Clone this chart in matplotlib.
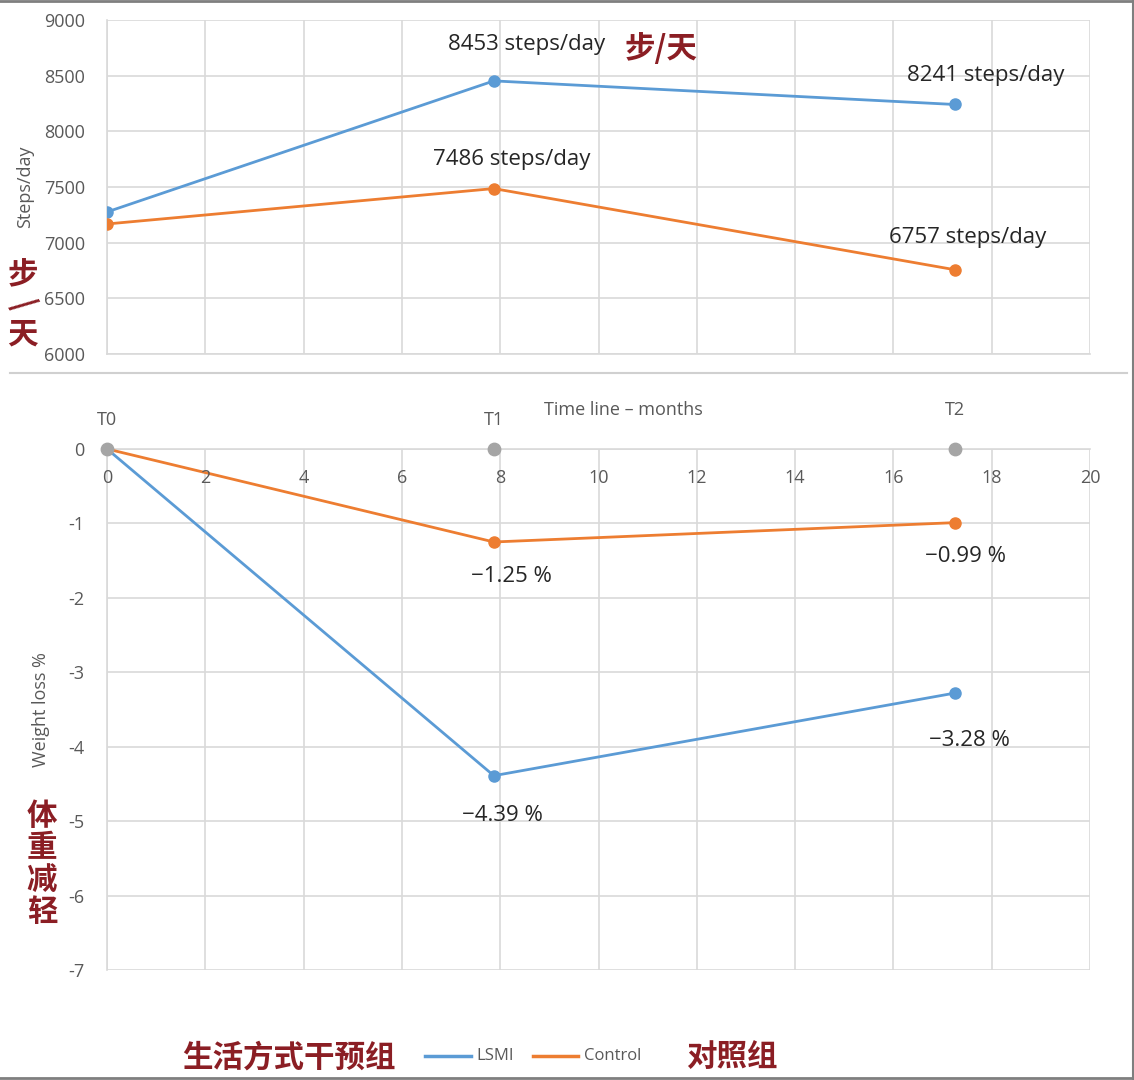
import matplotlib.pyplot as plt
from matplotlib.lines import Line2D

# data
months = [0, 7.87, 17.25]
time_labels = ['T0', 'T1', 'T2']
steps_lsmi = [7276, 8453, 8241]
steps_ctrl = [7168, 7486, 6757]
weight_lsmi = [0, -4.39, -3.28]
weight_ctrl = [0, -1.25, -0.99]
steps_notes = ['', '8453 steps/day', '8241 steps/day']
steps_ctrl_notes = ['', '7486 steps/day', '6757 steps/day']
weight_lsmi_notes = ['', '\u22124.39 %', '\u22123.28 %']
weight_ctrl_notes = ['', '\u22121.25 %', '\u22120.99 %']

BLUE = '#5B9BD5'
ORANGE = '#ED7D31'
GRID = '#D9D9D9'
TICK = '#595959'
RED = '#8B1E24'

plt.rcParams['font.family'] = ['Open Sans', 'DejaVu Sans']
plt.rcParams['axes.unicode_minus'] = False
cjk = ['Noto Sans CJK SC', 'DejaVu Sans']

fig = plt.figure(figsize=(11.34, 10.8), dpi=100)

def note(ax, x, y, text, dx, dy):
    # offsets given in pixels, converted to points
    ax.annotate(text, (x, y), xytext=(dx * 0.72, dy * 0.72), textcoords='offset points',
                ha='center', va='center', fontsize=16, color='#262626',
                annotation_clip=False)

# top panel: steps/day
ax1 = fig.add_axes([0.0944, 0.6722, 0.8668, 0.3093])
ax1.plot(months, steps_lsmi, color=BLUE, lw=2, marker='o', ms=8, zorder=3)
ax1.plot(months, steps_ctrl, color=ORANGE, lw=2, marker='o', ms=8, zorder=3)
ax1.set_xlim(0, 20)
ax1.set_ylim(6000, 9000)
ax1.set_xticks(range(0, 21, 2))
ax1.set_yticks(range(6000, 9001, 500))
ax1.tick_params(axis='x', length=0, labelbottom=False)
ax1.tick_params(axis='y', length=0, labelsize=13, colors=TICK, pad=16)
ax1.grid(True, color=GRID, lw=1.2)
for s in ['top', 'right']:
    ax1.spines[s].set_visible(False)
for s in ['left', 'bottom']:
    ax1.spines[s].set_color(GRID)
    ax1.spines[s].set_linewidth(1.2)
ax1.set_ylabel('Steps/day', color=TICK, fontsize=13)
ax1.yaxis.set_label_coords(-0.074, 0.5)

note(ax1, months[1], steps_lsmi[1], steps_notes[1], 33, 36)
note(ax1, months[2], steps_lsmi[2], steps_notes[2], 31, 29)
note(ax1, months[1], steps_ctrl[1], steps_ctrl_notes[1], 18, 29)
note(ax1, months[2], steps_ctrl[2], steps_ctrl_notes[2], 13, 32)

# bottom panel: weight loss
ax2 = fig.add_axes([0.0944, 0.1019, 0.8668, 0.4824])
ax2.plot(months, weight_lsmi, color=BLUE, lw=2, marker='o', ms=8, zorder=3)
ax2.plot(months, weight_ctrl, color=ORANGE, lw=2, marker='o', ms=8, zorder=3)
ax2.scatter(months, [0] * len(months), s=80, color='#A5A5A5', zorder=4, clip_on=False)
ax2.set_xlim(0, 20)
ax2.set_ylim(-7, 0)
ax2.set_xticks(range(0, 21, 2))
ax2.set_yticks(range(-7, 1))
ax2.tick_params(axis='x', length=0, labelbottom=False, labeltop=False)
for xv in range(0, 21, 2):
    ax2.text(xv, -0.39, str(xv), ha='center', va='center', fontsize=13, color=TICK)
ax2.tick_params(axis='y', length=0, labelsize=13, colors=TICK, pad=16)
ax2.grid(True, color=GRID, lw=1.2)
for s in ['right', 'bottom']:
    ax2.spines[s].set_visible(False)
for s in ['left', 'top']:
    ax2.spines[s].set_color(GRID)
    ax2.spines[s].set_linewidth(1.2)
ax2.set_ylabel('Weight loss %', color=TICK, fontsize=13)
ax2.yaxis.set_label_coords(-0.058, 0.5)

t_offsets = [29, 29, 39]
for x, t, dy in zip(months, time_labels, t_offsets):
    ax2.annotate(t, (x, 0), xytext=(0, dy * 0.72), textcoords='offset points',
                 ha='center', va='center', fontsize=13, color=TICK, annotation_clip=False)
ax2.annotate('Time line \u2013 months', (10.5, 0), xytext=(0, 39 * 0.72), textcoords='offset points',
             ha='center', va='center', fontsize=13, color=TICK, annotation_clip=False)

note(ax2, months[1], weight_ctrl[1], weight_ctrl_notes[1], 18, -35)
note(ax2, months[2], weight_ctrl[2], weight_ctrl_notes[2], 11, -34)
note(ax2, months[1], weight_lsmi[1], weight_lsmi_notes[1], 9, -40)
note(ax2, months[2], weight_lsmi[2], weight_lsmi_notes[2], 15, -47)

# chinese notes
fig.text(0.551, 0.955, '步/天', family=cjk, fontsize=22, color=RED, weight='bold',
         ha='left', va='center')
fig.text(0.020, 0.745, '步', family=cjk, fontsize=22, color=RED, weight='bold',
         ha='center', va='center')
fig.text(0.020, 0.718, '/', family=cjk, fontsize=22, color=RED, weight='bold',
         ha='center', va='center', rotation=-60)
fig.text(0.020, 0.690, '天', family=cjk, fontsize=22, color=RED, weight='bold',
         ha='center', va='center')
fig.text(0.037, 0.200, '体\n重\n减\n轻', family=cjk, fontsize=22, color=RED, weight='bold',
         ha='center', va='center', linespacing=1.0)

# legend row
fig.text(0.161, 0.021, '生活方式干预组', family=cjk, fontsize=22, color=RED, weight='bold',
         ha='left', va='center')
fig.lines.append(Line2D([0.375, 0.415], [0.022, 0.022], color=BLUE, lw=2.5,
                        transform=fig.transFigure))
fig.text(0.42, 0.022, 'LSMI', fontsize=12, color=TICK, ha='left', va='center')
fig.lines.append(Line2D([0.47, 0.51], [0.022, 0.022], color=ORANGE, lw=2.5,
                        transform=fig.transFigure))
fig.text(0.515, 0.022, 'Control', fontsize=12, color=TICK, ha='left', va='center')
fig.text(0.605, 0.021, '对照组', family=cjk, fontsize=22, color=RED, weight='bold',
         ha='left', va='center')

# frame lines
fig.lines.append(Line2D([0.009, 0.994], [0.655, 0.655], color='#D0D0D0', lw=1.5,
                        transform=fig.transFigure))
fig.lines.append(Line2D([0, 1], [0.999, 0.999], color='#7F7F7F', lw=2,
                        transform=fig.transFigure))
fig.lines.append(Line2D([0, 1], [0.002, 0.002], color='#7F7F7F', lw=2,
                        transform=fig.transFigure))
fig.lines.append(Line2D([0.999, 0.999], [0, 1], color='#7F7F7F', lw=1.5,
                        transform=fig.transFigure))

fig.savefig('out.png', dpi=100)
